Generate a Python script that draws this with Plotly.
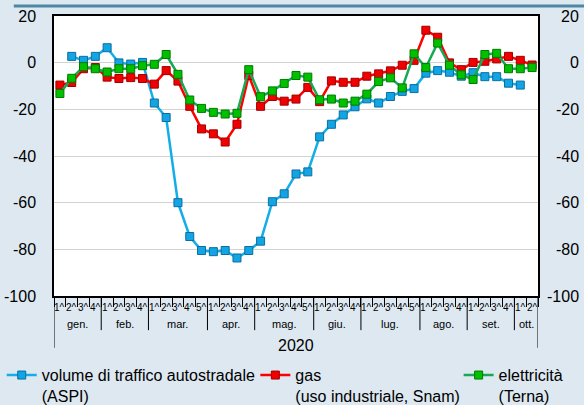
import plotly.graph_objects as go

months = ["gen.", "feb.", "mar.", "apr.", "mag.", "giu.", "lug.", "ago.", "set.", "ott."]
weeks_per_month = [4, 4, 5, 4, 5, 4, 5, 4, 4, 2]
year_label = "2020"

traffico = [None, 2.7, 1.0, 2.7, 6.4, -0.1, -0.6, 0.1, -17.3, -23.5,
            -60.0, -74.5, -80.5, -81.0, -80.5, -83.7, -80.5, -76.5, -59.6, -56.2,
            -47.7, -46.8, -31.8, -26.4, -22.4, -18.9, -15.5, -17.3, -14.5, -12.3,
            -11.1, -4.5, -3.4, -4.1, -5.8, -4.3, -6.0, -6.0, -8.8, -9.6, None]
gas = [-9.6, -8.5, -2.6, -2.1, -6.2, -6.8, -6.4, -6.8, -9.2, -3.4,
       -7.9, -18.7, -28.4, -30.5, -34.0, -26.4, -5.5, -18.7, -14.5, -16.5,
       -15.6, -10.6, -16.7, -7.8, -8.4, -8.4, -5.8, -4.8, -3.5, -1.1,
       1.0, 13.9, 10.9, -0.1, -3.0, 0.1, 0.6, 1.6, 2.7, 1.0, -1.0]
elettricita = [-13.2, -6.7, -1.7, -2.6, -4.0, -2.6, -2.6, -1.3, -0.7, 3.5,
               -5.0, -16.0, -19.6, -21.3, -22.0, -21.7, -3.0, -14.6, -12.1, -8.9,
               -5.5, -6.2, -15.9, -15.6, -17.3, -16.5, -13.5, -8.1, -6.5, -10.8,
               3.8, -2.1, 8.4, -1.1, -5.2, -7.2, 3.5, 4.0, -2.6, -2.6, -2.1]
yticks = [20, 0, -20, -40, -60, -80, -100]

names = ["volume di traffico autostradale<br>(ASPI)",
         "gas<br>(uso industriale, Snam)",
         "elettricità<br>(Terna)"]

week_labels = []
for m, n in zip(months, weeks_per_month):
    for k in range(n):
        week_labels.append(f"{k + 1}^")
xs = list(range(len(week_labels)))

FONT = "Liberation Sans, Arial, sans-serif"
BG = "#dde8f1"

fig = go.Figure()
series = [
    (traffico, names[0], "#13aee8", "#12a4e3", "#0a6fa0", "legend"),
    (gas, names[1], "#ff0000", "#f00000", "#a00000", "legend2"),
    (elettricita, names[2], "#17a856", "#00c000", "#007a00", "legend3"),
]
for vals, name, lc, mc, oc, lg in series:
    fig.add_trace(go.Scatter(
        x=xs, y=vals, name=name, mode="lines+markers",
        line=dict(color=lc, width=2.5),
        marker=dict(symbol="square", size=8, color=mc, line=dict(color=oc, width=1)),
        legend=lg, connectgaps=False,
    ))

n = len(xs)
fig.update_xaxes(
    range=[-0.5, n - 0.5], showgrid=False, zeroline=False, automargin=False,
    showline=True, linecolor="black", linewidth=1.5, mirror=True,
    tickvals=[i - 0.5 for i in range(n + 1)], ticks="outside", ticklen=9,
    tickcolor="black", tickwidth=1, showticklabels=False,
)
fig.update_yaxes(
    range=[-100, 20], tickvals=yticks, ticktext=[str(v) for v in yticks],
    showgrid=True, gridcolor="#d3d3d3", gridwidth=1, zeroline=False, automargin=False,
    showline=True, linecolor="black", linewidth=1.5, mirror=True,
    ticks="", ticklabelstandoff=13,
    tickfont=dict(family=FONT, size=16, color="black"),
)

annotations = []
for x, lab in zip(xs, week_labels):
    annotations.append(dict(x=x, y=0, xref="x", yref="paper", text=lab, showarrow=False,
                            yanchor="middle", yshift=-11,
                            font=dict(family=FONT, size=10, color="black")))
shapes = []
start = 0
for m, cnt in zip(months, weeks_per_month):
    annotations.append(dict(x=start + (cnt - 1) / 2, y=0, xref="x", yref="paper", text=m,
                            showarrow=False, yanchor="middle", yshift=-28,
                            font=dict(family=FONT, size=11, color="black")))
    if start > 0:
        shapes.append(dict(type="line", xref="x", yref="paper", x0=start - 0.5, x1=start - 0.5,
                           y0=0, y1=-0.122, line=dict(color="black", width=1)))
    start += cnt
for xb in [-0.5, n - 0.5]:
    shapes.append(dict(type="line", xref="x", yref="paper", x0=xb, x1=xb,
                       y0=0, y1=-0.185, line=dict(color="black", width=1)))
annotations.append(dict(x=(n - 1) / 2, y=0, xref="x", yref="paper", text=year_label,
                        showarrow=False, yanchor="middle", yshift=-49,
                        font=dict(family=FONT, size=16, color="black")))
for v in yticks:
    annotations.append(dict(x=1, y=v, xref="paper", yref="y", text=str(v), showarrow=False,
                            xanchor="right", yanchor="middle", xshift=43,
                            font=dict(family=FONT, size=16, color="black")))
shapes.append(dict(type="line", xref="paper", yref="paper", x0=-0.083, x1=1.1,
                   y0=1.036, y1=1.036, line=dict(color="#4f86a3", width=3),
                   layer="above"))

legend_common = dict(orientation="h", bgcolor="rgba(0,0,0,0)", valign="top",
                     font=dict(family=FONT, size=16, color="black"),
                     xanchor="left", yanchor="top", y=-0.222, itemwidth=30)
fig.update_layout(
    width=584, height=405,
    margin=dict(l=54, r=46, t=16, b=109, autoexpand=False),
    paper_bgcolor=BG, plot_bgcolor="white",
    showlegend=True,
    legend=dict(x=-0.108, **legend_common),
    legend2=dict(x=0.416, **legend_common),
    legend3=dict(x=0.836, **legend_common),
    annotations=annotations, shapes=shapes,
)
fig.write_html(
    "out.html",
    config={"displayModeBar": False},
    post_script=f"document.body.style.margin='0px';document.body.style.background='{BG}';",
)
